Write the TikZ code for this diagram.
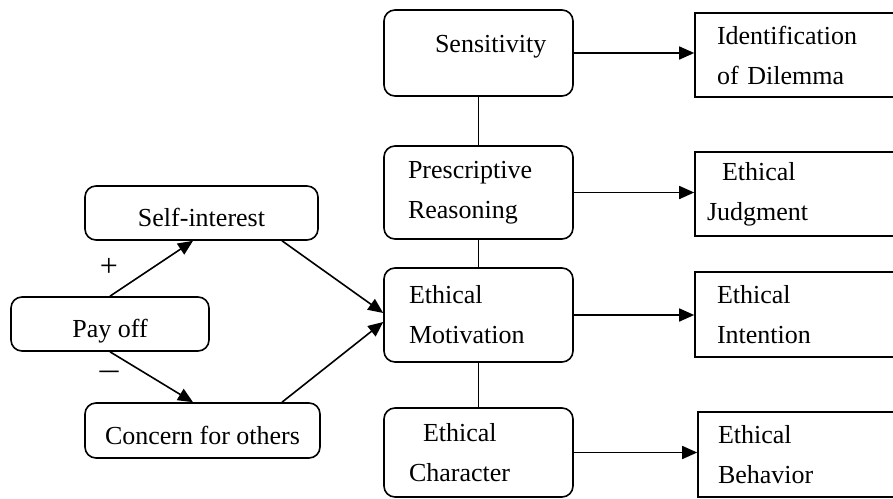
\documentclass[tikz,border=0pt]{standalone}
\usepackage{fontspec}
\setmainfont{Liberation Serif}
\usetikzlibrary{arrows.meta,calc}
\begin{document}
\begin{tikzpicture}[x=1pt,y=-1pt,
  every node/.style={font=\fontsize{26}{40}\selectfont},
  rbox/.style={draw, line width=1.6pt, rounded corners=11pt, inner ysep=0pt},
  sbox/.style={draw, line width=1.6pt, inner ysep=0pt, inner xsep=0pt, align=left},
  cbox/.style={rbox, inner xsep=0pt, align=left, minimum width=189pt},
  link/.style={line width=1.6pt},
  arr/.style={line width=1.6pt, -{Triangle[length=15pt,width=13pt]}},
  sign/.style={font=\fontsize{32}{36}\selectfont, inner sep=0pt}]
\useasboundingbox (0,0) rectangle (893,498);

% left group
\node[rbox, minimum width=198pt, minimum height=54pt, text height=31.7pt] (pay) at (110,324) {Pay off};
\node[rbox, minimum width=233pt, minimum height=54pt, text height=27pt] (self) at (201.5,213) {Self-interest};
\node[rbox, minimum width=235pt, minimum height=55pt, text height=29pt] (conc) at (202.5,430.5) {Concern for others};
\node[sign] (plus) at (109,267) {+};
\node[sign, xscale=1.3] (minus) at (109,377) {−};

% central column
\node[cbox, minimum height=86pt, text width=87pt, text depth=18.5pt] (sens) at (478.5,53) {Sensitivity};
\node[cbox, minimum height=93pt, text width=141pt] (pres) at (478.5,192.5) {Prescriptive\\Reasoning};
\node[cbox, minimum height=94pt, text width=139pt] (mot) at (478.5,315) {Ethical\\Motivation};
\node[cbox, minimum height=89pt, text width=139pt] (char) at (478.5,452.5) {\hspace*{14pt}Ethical\\Character};

% right column
\node[sbox, minimum width=200pt, minimum height=84pt, text width=156pt] (iden) at (795,55) {Identification\\of Dilemma};
\node[sbox, minimum width=200pt, minimum height=84pt, text width=176pt] (judg) at (795,194) {\hspace*{15pt}Ethical\\Judgment};
\node[sbox, minimum width=200pt, minimum height=85pt, text width=156pt] (inten) at (795,314.5) {Ethical\\Intention};
\node[sbox, minimum width=197pt, minimum height=85pt, text width=157pt] (behav) at (796.5,454.5) {Ethical\\Behavior};

% connectors
\draw[arr] (sens.east) -- (sens.east -| iden.west);
\draw[arr] (pres.east) -- (pres.east -| judg.west);
\draw[arr] (mot.east) -- (mot.east -| inten.west);
\draw[arr] (char.east) -- (char.east -| behav.west);

\draw[link] (sens.south) -- (pres.north);
\draw[link] (pres.south) -- (mot.north);
\draw[link] (mot.south) -- (char.north);

\draw[arr] (pay.north) -- ([xshift=-8.5pt]self.south);
\draw[arr] (pay.south) -- ([xshift=-9.5pt]conc.north);
\draw[arr] ([xshift=80.5pt]self.south) -- ([yshift=2pt]mot.west);
\draw[arr] ([xshift=79.5pt]conc.north) -- ([yshift=-7pt]mot.west);
\end{tikzpicture}
\end{document}
